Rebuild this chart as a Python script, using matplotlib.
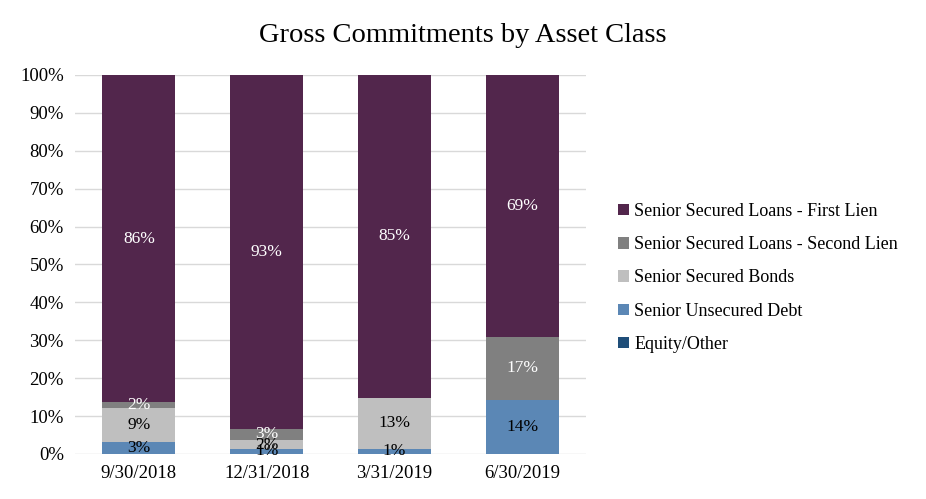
import numpy as np
import matplotlib.pyplot as plt
from matplotlib.patches import Patch

plt.rcParams["font.family"] = ["Liberation Serif", "DejaVu Serif"]

# Data (percent of gross commitments)
dates = ["9/30/2018", "12/31/2018", "3/31/2019", "6/30/2019"]
equity_other = [0.0, 0.0, 0.0, 0.0]
unsecured = [3.2, 1.4, 1.4, 14.2]
secured_bonds = [8.9, 2.2, 13.4, 0.0]
second_lien = [1.6, 3.1, 0.0, 16.8]
first_lien = [86.3, 93.3, 85.2, 69.0]

series = [
    ("Equity/Other", equity_other, "#1F4E79", "white"),
    ("Senior Unsecured Debt", unsecured, "#5B87B5", "black"),
    ("Senior Secured Bonds", secured_bonds, "#BFBFBF", "black"),
    ("Senior Secured Loans - Second Lien", second_lien, "#808080", "white"),
    ("Senior Secured Loans - First Lien", first_lien, "#52264C", "white"),
]

fig = plt.figure(figsize=(9.26, 4.99), dpi=100)
ax = fig.add_axes([0.081, 0.0902, 0.552, 0.7595])

x = np.arange(len(dates))
bottom = np.zeros(len(dates))
for name, vals, color, tcolor in series:
    vals = np.array(vals)
    ax.bar(x, vals, width=0.57, bottom=bottom, color=color, zorder=2)
    for xi, b, v in zip(x, bottom, vals):
        if v >= 0.5:
            ax.text(xi, b + v / 2, f"{round(v):.0f}%", ha="center", va="center",
                    color=tcolor, fontsize=12.5, zorder=3)
    bottom += vals

ax.set_xlim(-0.5, 3.5)
ax.set_ylim(0, 100)
ax.set_yticks(np.arange(0, 101, 10))
ax.set_yticklabels([f"{t}%" for t in range(0, 101, 10)], fontsize=13.5)
ax.set_xticks(x)
ax.set_xticklabels(dates, fontsize=13.5)
ax.yaxis.grid(True, color="#D9D9D9", linewidth=1, zorder=0)
ax.tick_params(axis="both", length=0, pad=8)
for s in ax.spines.values():
    s.set_visible(False)

fig.suptitle("Gross Commitments by Asset Class", fontsize=20.5, y=0.953)

handles = [Patch(facecolor=c, edgecolor="none", label=n) for n, _, c, _ in reversed(series)]
fig.legend(handles=handles, loc="center left", bbox_to_anchor=(0.65, 0.443),
           frameon=False, fontsize=13, handlelength=0.6, handleheight=0.6,
           handletextpad=0.3, labelspacing=0.9)

fig.savefig("out.png", dpi=100)
